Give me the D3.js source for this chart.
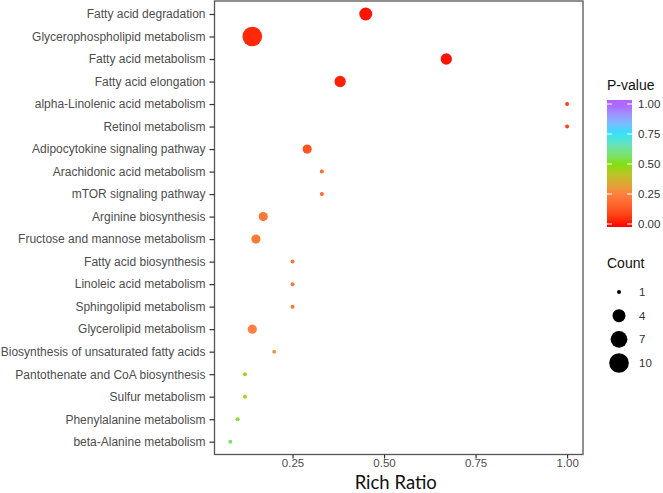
<html>
<head>
<script src="https://d3js.org/d3.v7.min.js"></script>
<style>
  body { margin: 0; background: #fff; }
  text { font-family: "Liberation Sans", Arial, sans-serif; }
</style>
</head>
<body>
<svg id="chart" width="663" height="493"></svg>
<script>
// pathways, top to bottom
const pathways = [
  "Fatty acid degradation", "Glycerophospholipid metabolism", "Fatty acid metabolism",
  "Fatty acid elongation", "alpha-Linolenic acid metabolism", "Retinol metabolism",
  "Adipocytokine signaling pathway", "Arachidonic acid metabolism", "mTOR signaling pathway",
  "Arginine biosynthesis", "Fructose and mannose metabolism", "Fatty acid biosynthesis",
  "Linoleic acid metabolism", "Sphingolipid metabolism", "Glycerolipid metabolism",
  "Biosynthesis of unsaturated fatty acids", "Pantothenate and CoA biosynthesis",
  "Sulfur metabolism", "Phenylalanine metabolism", "beta-Alanine metabolism"
];
const richRatio = [0.45, 0.14, 0.67, 0.38, 1.0, 1.0, 0.29, 0.33, 0.33, 0.17,
                   0.15, 0.25, 0.25, 0.25, 0.14, 0.20, 0.12, 0.12, 0.10, 0.08];
const counts    = [4, 10, 3, 3, 1, 1, 2, 1, 1, 2, 2, 1, 1, 1, 2, 1, 1, 1, 1, 1];
const pValues   = [0.01, 0.03, 0.01, 0.02, 0.08, 0.08, 0.12, 0.18, 0.18, 0.22,
                   0.23, 0.21, 0.21, 0.21, 0.25, 0.32, 0.46, 0.46, 0.52, 0.57];

const xTicks = [0.25, 0.50, 0.75, 1.00];
const pTicks = [0, 0.25, 0.5, 0.75, 1];
const countTicks = [1, 4, 7, 10];
const gradColors = ["#ff0000", "#ff8040", "#80e000", "#00e5ff", "#b060ff"];

const svg = d3.select("#chart");
const panel = {left: 214.5, right: 583, top: 1, bottom: 454.5};

const x = d3.scaleLinear().domain([0.0368, 1.0435]).range([panel.left, panel.right]);
const y = d3.scalePoint().domain(pathways).range([14, 441.7]);

const color = d3.scaleLinear().domain(pTicks).range(gradColors).interpolate(d3.interpolateLab);
const rBase = d3.scaleLinear().domain([0, 1]).range([2, 9.8]);
const radius = c => rBase(Math.sqrt((c - 1) / 9));

const data = pathways.map((p, i) => ({name: p, ratio: richRatio[i], count: counts[i], p: pValues[i]}));

// points
svg.append("g").selectAll("circle")
  .data(data)
  .enter()
  .append("circle")
  .attr("cx", d => x(d.ratio))
  .attr("cy", d => y(d.name))
  .attr("r", d => radius(d.count))
  .style("fill", d => color(d.p));

// panel border
svg.append("rect")
  .attr("x", panel.left).attr("y", panel.top)
  .attr("width", panel.right - panel.left).attr("height", panel.bottom - panel.top)
  .style("fill", "none").style("stroke", "#555").style("stroke-width", 1.3);

// axes
const xAxis = svg.append("g")
  .attr("transform", `translate(0, ${panel.bottom})`)
  .call(d3.axisBottom(x).tickValues(xTicks).tickFormat(d3.format(".2f")).tickSize(4).tickPadding(0));
const yAxis = svg.append("g")
  .attr("transform", `translate(${panel.left}, 0)`)
  .call(d3.axisLeft(y).tickSize(5).tickPadding(4));
[xAxis, yAxis].forEach(a => {
  a.select(".domain").remove();
  a.selectAll(".tick line").style("stroke", "#333").style("stroke-width", 1.2);
  a.selectAll(".tick text").style("fill", "#4d4d4d").style("font-size", "12px")
    .style("font-family", "'Liberation Sans', Arial, sans-serif");
});
xAxis.selectAll(".tick text").style("font-size", "11.5px");

svg.append("text")
  .attr("x", (panel.left + panel.right) / 2 - 3)
  .attr("y", 489)
  .style("text-anchor", "middle")
  .style("font-family", "Lato, 'Open Sans', sans-serif")
  .style("font-size", "18.5px")
  .style("fill", "#111")
  .text("Rich Ratio");

// colour legend
const lg = svg.append("g");
lg.append("text").attr("x", 607).attr("y", 90).style("font-size", "14px").style("fill", "#111").text("P-value");
const barTop = 100, barBottom = 227;
const pY = d3.scaleLinear().domain([0, 1]).range([224, 104]);
const defs = svg.append("defs");
const grad = defs.append("linearGradient").attr("id", "pgrad")
  .attr("x1", 0).attr("y1", 1).attr("x2", 0).attr("y2", 0);
d3.range(0, 1.0001, 0.05).forEach(t => {
  const v = pY.invert(barBottom + t * (barTop - barBottom));
  grad.append("stop").attr("offset", t).attr("stop-color", color(Math.max(0, Math.min(1, v))));
});
lg.append("rect").attr("x", 607).attr("y", barTop).attr("width", 25).attr("height", barBottom - barTop)
  .style("fill", "url(#pgrad)");
pTicks.forEach(t => {
  lg.append("line").attr("x1", 607).attr("x2", 612).attr("y1", pY(t)).attr("y2", pY(t)).style("stroke", "#fff").style("stroke-width", 1);
  lg.append("line").attr("x1", 627).attr("x2", 632).attr("y1", pY(t)).attr("y2", pY(t)).style("stroke", "#fff").style("stroke-width", 1);
  lg.append("text").attr("x", 638).attr("y", pY(t)).attr("dy", "0.35em")
    .style("font-size", "11.5px").style("fill", "#333").text(d3.format(".2f")(t));
});

// size legend
lg.append("text").attr("x", 607).attr("y", 268).style("font-size", "14px").style("fill", "#111").text("Count");
const cY = d3.scalePoint().domain(countTicks).range([292, 363]);
countTicks.forEach(c => {
  lg.append("circle").attr("cx", 619).attr("cy", cY(c)).attr("r", radius(c)).style("fill", "#000");
  lg.append("text").attr("x", 639).attr("y", cY(c)).attr("dy", "0.35em")
    .style("font-size", "11.5px").style("fill", "#333").text(c);
});
</script>
</body>
</html>
